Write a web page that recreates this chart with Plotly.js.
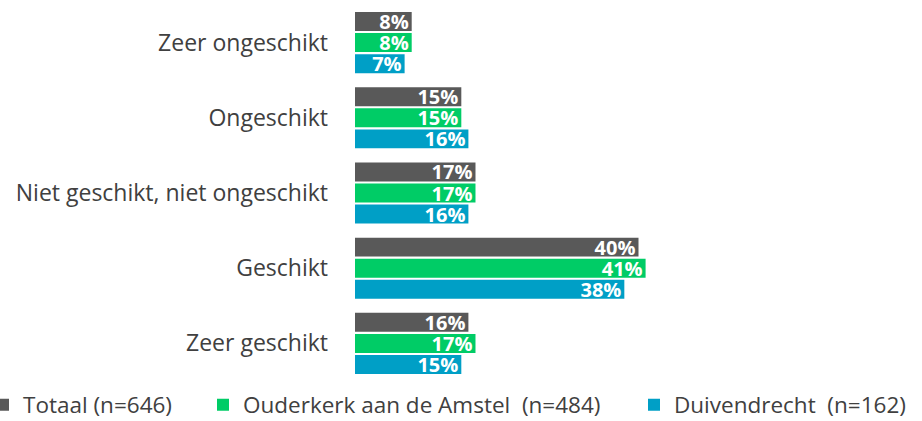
<!DOCTYPE html>
<html><head><meta charset="utf-8">
<script src="https://cdn.plot.ly/plotly-3.0.1.min.js"></script>
<style>html,body{margin:0;padding:0;background:#fff}#chart{width:922px;height:421px}</style>
</head><body><div id="chart"></div>
<script>
const categories = ["Zeer ongeschikt", "Ongeschikt", "Niet geschikt, niet ongeschikt", "Geschikt", "Zeer geschikt"];
const seriesNames = ["Totaal (n=646)", "Ouderkerk aan de Amstel  (n=484)", "Duivendrecht  (n=162)"];
const totaal = [8, 15, 17, 40, 16];
const ouderkerk = [8, 15, 17, 41, 17];
const duivendrecht = [7, 16, 16, 38, 15];
const colors = ["#595959", "#00CC66", "#009FC6"];
const values = [totaal, ouderkerk, duivendrecht];
const legendIds = ["legend", "legend2", "legend3"];

const FONT = "Open Sans, sans-serif";
const traces = values.map((v, i) => ({
  type: "bar", orientation: "h",
  y: categories, x: v, name: seriesNames[i],
  marker: {color: colors[i]},
  text: v.map(d => d + "%"),
  textposition: "inside", insidetextanchor: "end",
  constraintext: "none",
  textfont: {family: FONT, size: 20, color: "#ffffff", weight: "bold"},
  legend: legendIds[i],
  hoverinfo: "none"
}));

// legend left edges in figure pixels, converted to paper coords (plot spans 355..922)
const legendPx = [-17, 203, 634];
const legendBase = {
  orientation: "h", xref: "paper", yref: "paper",
  y: (381 - 405) / 376, yanchor: "middle", xanchor: "left",
  font: {family: FONT, size: 22.5, color: "#404040"},
  bgcolor: "rgba(0,0,0,0)", itemwidth: 30
};
const layout = {
  width: 922, height: 421,
  margin: {l: 355, r: 0, t: 5, b: 40, autoexpand: false},
  paper_bgcolor: "#fff", plot_bgcolor: "#fff",
  barmode: "group", bargap: 0.16, bargroupgap: 0.1,
  showlegend: true,
  xaxis: {range: [0, 80], visible: false, fixedrange: true},
  yaxis: {autorange: "reversed", showgrid: false, zeroline: false, showline: false,
          ticks: "", ticklabelstandoff: 26,
          tickfont: {family: FONT, size: 23, color: "#404040"}},
  font: {family: FONT}
};
legendIds.forEach((id, i) => {
  layout[id] = Object.assign({}, legendBase, {x: (legendPx[i] - 355) / 567});
});

Plotly.newPlot("chart", traces, layout, {displayModeBar: false, staticPlot: true});
</script></body></html>
